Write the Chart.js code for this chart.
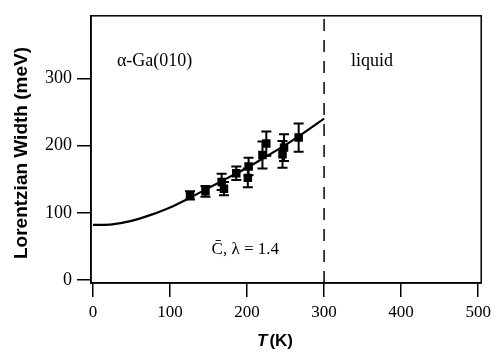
<!DOCTYPE html>
<html>
<head>
<meta charset="utf-8">
<script src="https://cdn.jsdelivr.net/npm/chart.js@4"></script>
<style>
  html, body { margin: 0; padding: 0; background: #fff; }
</style>
</head>
<body>
<canvas id="chart" width="496" height="353"></canvas>
<script>
// measured points (T in K, Lorentzian width in meV, error bar half-height)
const tempK = [126, 146, 167, 170, 186, 201, 202, 220, 225, 246, 248, 267];
const widthMeV = [126, 132, 146, 136, 159, 152, 169, 186, 203, 187, 197, 212];
const widthErr = [6, 8, 12, 10, 10, 14, 13, 20, 18, 20, 20, 21];

// fitted curve (C-bar, lambda = 1.4)
const fitT = [0, 25, 50, 75, 100, 125, 150, 175, 200, 225, 250, 275, 300];
const fitW = [82, 83, 88, 97, 108, 122, 137, 152, 167, 184, 201, 220, 240];

// melting point marker
const meltT = 300;

const xTicks = [0, 100, 200, 300, 400, 500];
const yTicks = [0, 100, 200, 300];

const X_MIN = -2.6, X_MAX = 504;
const Y_MIN = -4.3, Y_MAX = 393;

const serif = "'Liberation Serif', 'Times New Roman', serif";
const sans = "'Liberation Sans', Arial, sans-serif";

const frame = {
  id: "frame",
  afterDraw(chart) {
    const { ctx, chartArea: a } = chart;
    ctx.save();
    ctx.strokeStyle = "#000";
    ctx.lineWidth = 1.5;
    ctx.strokeRect(a.left, a.top, a.right - a.left, a.bottom - a.top);
    ctx.restore();
  }
};

const errorBars = {
  id: "errorBars",
  afterDatasetsDraw(chart) {
    const { ctx, scales: { x, y } } = chart;
    ctx.save();
    ctx.strokeStyle = "#000";
    ctx.lineWidth = 2;
    tempK.forEach((t, i) => {
      const px = x.getPixelForValue(t);
      const top = y.getPixelForValue(widthMeV[i] + widthErr[i]);
      const bot = y.getPixelForValue(widthMeV[i] - widthErr[i]);
      ctx.beginPath();
      ctx.moveTo(px, top); ctx.lineTo(px, bot);
      ctx.moveTo(px - 5, top); ctx.lineTo(px + 5, top);
      ctx.moveTo(px - 5, bot); ctx.lineTo(px + 5, bot);
      ctx.stroke();
    });
    ctx.restore();
  }
};

const labels = {
  id: "labels",
  afterDraw(chart) {
    const { ctx, scales: { x, y } } = chart;
    ctx.save();
    ctx.fillStyle = "#000";
    ctx.textBaseline = "middle";
    ctx.textAlign = "left";

    ctx.font = "18px " + serif;
    ctx.fillText("α-Ga(010)", x.getPixelForValue(31), y.getPixelForValue(326));
    ctx.fillText("liquid", x.getPixelForValue(335), y.getPixelForValue(326));
    ctx.font = "17px " + serif;
    ctx.fillText("C\u0304, λ = 1.4", x.getPixelForValue(154), y.getPixelForValue(46));

    // x axis title: italic T, upright (K)
    ctx.font = "italic bold 17px " + sans;
    ctx.fillText("T", 257, 341);
    const tw = ctx.measureText("T").width;
    ctx.font = "bold 17px " + sans;
    ctx.fillText("(K)", 257 + tw + 2, 341);

    // y axis title
    ctx.translate(22, 153);
    ctx.rotate(-Math.PI / 2);
    ctx.textAlign = "center";
    ctx.font = "bold 19px " + sans;
    ctx.fillText("Lorentzian Width (meV)", 0, 0);
    ctx.restore();
  }
};

new Chart(document.getElementById("chart"), {
  type: "scatter",
  data: {
    datasets: [
      {
        label: "data",
        data: tempK.map((t, i) => ({ x: t, y: widthMeV[i] })),
        pointStyle: "rect",
        pointRadius: 6,
        backgroundColor: "#000",
        borderColor: "#000",
        borderWidth: 0
      },
      {
        label: "fit",
        type: "line",
        data: fitT.map((t, i) => ({ x: t, y: fitW[i] })),
        borderColor: "#000",
        borderWidth: 2.2,
        pointRadius: 0,
        cubicInterpolationMode: "monotone",
        fill: false
      },
      {
        label: "melt",
        type: "line",
        data: [{ x: meltT, y: Y_MIN }, { x: meltT, y: Y_MAX }],
        borderColor: "#000",
        borderWidth: 1.5,
        borderDash: [12, 9],
        pointRadius: 0,
        fill: false
      }
    ]
  },
  options: {
    responsive: false,
    animation: false,
    layout: { padding: { top: 6, right: 14, left: 0, bottom: 0 } },
    plugins: { legend: { display: false }, tooltip: { enabled: false } },
    scales: {
      x: {
        type: "linear",
        min: X_MIN,
        max: X_MAX,
        afterBuildTicks: (axis) => { axis.ticks = xTicks.map(v => ({ value: v })); },
        afterFit: (axis) => { axis.height = 70; },
        grid: { drawOnChartArea: false, color: "#000", lineWidth: 1.5, tickLength: 14 },
        border: { color: "#000", width: 1.5 },
        ticks: { color: "#000", padding: 5, font: { family: serif, size: 17 }, maxRotation: 0 }
      },
      y: {
        min: Y_MIN,
        max: Y_MAX,
        afterBuildTicks: (axis) => { axis.ticks = yTicks.map(v => ({ value: v })); },
        afterFit: (axis) => { axis.width = 91; },
        grid: { drawOnChartArea: false, color: "#000", lineWidth: 1.5, tickLength: 14 },
        border: { color: "#000", width: 1.5 },
        ticks: { color: "#000", padding: 5, font: { family: serif, size: 18 } }
      }
    }
  },
  plugins: [frame, errorBars, labels]
});
</script>
</body>
</html>
